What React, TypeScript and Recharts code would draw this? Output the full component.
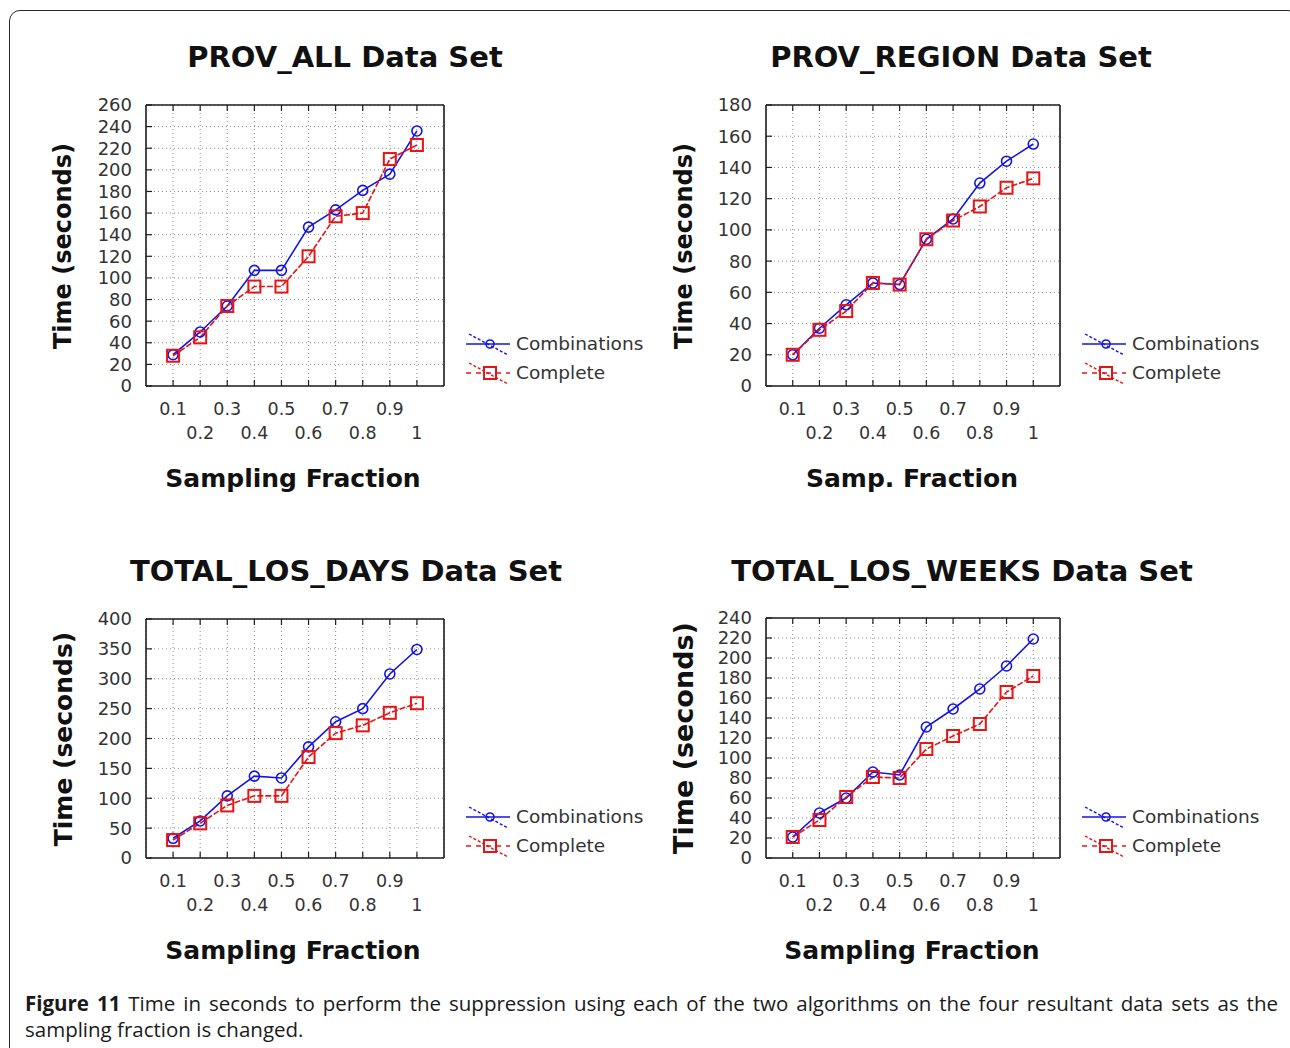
import React from 'react';
import { LineChart, Line, XAxis, YAxis, CartesianGrid } from 'recharts';

// ---------- data ----------
const fractions = [0.1, 0.2, 0.3, 0.4, 0.5, 0.6, 0.7, 0.8, 0.9, 1.0];

const provAllCombinations = [29, 50, 74, 107, 107, 147, 163, 181, 196, 236];
const provAllComplete = [28, 45, 74, 92, 92, 120, 157, 160, 210, 223];

const provRegionCombinations = [20, 37, 52, 66, 65, 94, 107, 130, 144, 155];
const provRegionComplete = [20, 36, 48, 66, 65, 94, 106, 115, 127, 133];

const losDaysCombinations = [33, 62, 104, 137, 134, 186, 228, 250, 308, 349];
const losDaysComplete = [30, 58, 88, 104, 104, 169, 209, 222, 243, 259];

const losWeeksCombinations = [21, 45, 60, 86, 83, 131, 149, 169, 192, 219];
const losWeeksComplete = [21, 38, 61, 81, 80, 109, 122, 134, 166, 182];

const ticks0to260 = [0, 20, 40, 60, 80, 100, 120, 140, 160, 180, 200, 220, 240, 260];
const ticks0to180 = [0, 20, 40, 60, 80, 100, 120, 140, 160, 180];
const ticks0to400 = [0, 50, 100, 150, 200, 250, 300, 350, 400];
const ticks0to240 = [0, 20, 40, 60, 80, 100, 120, 140, 160, 180, 200, 220, 240];

const seriesNames = ['Combinations', 'Complete'];

const FONT = "'DejaVu Sans', 'Liberation Sans', sans-serif";
const BLUE = '#1414e6';
const RED = '#e61414';
const AXIS = '#1e1e1e';

const buildRows = (comb: number[], comp: number[]) =>
  fractions.map((f, i) => ({ f, comb: comb[i], comp: comp[i] }));

const XTick = (props: any) => {
  const { x, y, payload } = props;
  const v = payload.value as number;
  const tenth = Math.round(v * 10);
  const second = tenth % 2 === 0;
  const label = tenth === 10 ? '1' : v.toFixed(1);
  return (
    <text x={x} y={y + (second ? 53 : 29)} textAnchor="middle" fontSize={17.5} fontFamily={FONT} fill="#333">
      {label}
    </text>
  );
};

const EmptyTick = () => <g />;

const CircleDot = (props: any) => {
  const { cx, cy, index } = props;
  return <circle key={`c${index}`} cx={cx} cy={cy} r={5} fill="none" stroke={BLUE} strokeWidth={1.6} />;
};
const SquareDot = (props: any) => {
  const { cx, cy, index } = props;
  return <rect key={`s${index}`} x={cx - 6} y={cy - 6} width={12} height={12} fill="none" stroke={RED} strokeWidth={2} />;
};

type PanelProps = {
  x1: number; x2: number; y1: number; y2: number;
  title: string; titleX: number; titleY: number;
  xLabel: string; xLabelX: number; xLabelY: number;
  yLabelX: number; yLabelSize: number;
  legendX: number; legendY: number;
  comb: number[]; comp: number[];
  yTicks: number[];
};

const padL = 120, padT = 80, padR = 20, padB = 110;

const LegendGlyph = ({ kind }: { kind: 'c' | 's' }) => (
  <svg width={46} height={26} style={{ display: 'block' }}>
    {kind === 'c' ? (
      <>
        <line x1={0} y1={13} x2={44} y2={13} stroke={BLUE} strokeWidth={1.6} />
        <line x1={3} y1={3} x2={42} y2={24} stroke={BLUE} strokeWidth={1.4} strokeDasharray="3 2" />
        <circle cx={24} cy={13} r={4} fill="none" stroke={BLUE} strokeWidth={1.6} />
      </>
    ) : (
      <>
        <line x1={0} y1={13} x2={44} y2={13} stroke={RED} strokeWidth={1.6} strokeDasharray="5 5" />
        <line x1={3} y1={3} x2={42} y2={24} stroke={RED} strokeWidth={1.4} strokeDasharray="3 2" />
        <rect x={18} y={7} width={12} height={12} fill="none" stroke={RED} strokeWidth={2} />
      </>
    )}
  </svg>
);

const Panel = (p: PanelProps) => {
  const data = buildRows(p.comb, p.comp);
  const yMax = p.yTicks[p.yTicks.length - 1];
  const width = p.x2 - p.x1 + padL + padR;
  const height = p.y2 - p.y1 + padT + padB;
  return (
    <>
      <div
        style={{
          position: 'absolute', left: p.titleX - 300, top: p.titleY - 18, width: 600, lineHeight: '36px',
          textAlign: 'center', fontFamily: FONT, fontWeight: 'bold', fontSize: 29, color: '#111', whiteSpace: 'nowrap',
        }}
      >
        {p.title}
      </div>
      <div
        style={{
          position: 'absolute', left: p.yLabelX, top: (p.y1 + p.y2) / 2, transform: 'translate(-50%, -50%) rotate(-90deg)',
          fontFamily: FONT, fontWeight: 'bold', fontSize: p.yLabelSize, color: '#111', whiteSpace: 'nowrap',
        }}
      >
        Time (seconds)
      </div>
      <div
        style={{
          position: 'absolute', left: p.xLabelX, top: p.xLabelY, transform: 'translate(-50%, -50%)',
          fontFamily: FONT, fontWeight: 'bold', fontSize: 25, color: '#111', whiteSpace: 'nowrap',
        }}
      >
        {p.xLabel}
      </div>
      <div style={{ position: 'absolute', left: p.legendX, top: p.legendY - 13 }}>
        {seriesNames.map((name, i) => (
          <div key={name} style={{ display: 'flex', alignItems: 'center', height: 29 }}>
            <LegendGlyph kind={i === 0 ? 'c' : 's'} />
            <span style={{ marginLeft: 4, fontFamily: FONT, fontSize: 18.5, color: '#333' }}>{name}</span>
          </div>
        ))}
      </div>
      <div style={{ position: 'absolute', left: p.x1 - padL, top: p.y1 - padT }}>
        <LineChart
          width={width}
          height={height}
          data={data}
          margin={{ left: padL - 50, top: padT - 1, right: padR - 1, bottom: padB - 100 }}
          style={{ fontFamily: FONT }}
        >
          <CartesianGrid xAxisId="b" yAxisId="l" stroke="#8a8a8a" strokeDasharray="1 3" />
          <XAxis
            xAxisId="b" dataKey="f" type="number" domain={[0, 1.1]} ticks={fractions} interval={0}
            height={100} tickSize={-6} tickMargin={6} tick={<XTick />}
            axisLine={{ stroke: AXIS, strokeWidth: 1.6 }} tickLine={{ stroke: AXIS, strokeWidth: 1.2 }}
          />
          <XAxis
            xAxisId="t" orientation="top" dataKey="f" type="number" domain={[0, 1.1]} ticks={fractions} interval={0}
            height={1} tickSize={-6} tick={<EmptyTick />}
            axisLine={{ stroke: AXIS, strokeWidth: 1.6 }} tickLine={{ stroke: AXIS, strokeWidth: 1.2 }}
          />
          <YAxis
            yAxisId="l" type="number" domain={[0, yMax]} ticks={p.yTicks} interval={0} width={50}
            tickSize={-6} tickMargin={20}
            tick={{ fontSize: 18, fill: '#333', fontFamily: FONT }}
            axisLine={{ stroke: AXIS, strokeWidth: 1.6 }} tickLine={{ stroke: AXIS, strokeWidth: 1.2 }}
          />
          <YAxis
            yAxisId="r" orientation="right" type="number" domain={[0, yMax]} ticks={p.yTicks} interval={0} width={1}
            tickSize={-6} tick={<EmptyTick />}
            axisLine={{ stroke: AXIS, strokeWidth: 1.6 }} tickLine={{ stroke: AXIS, strokeWidth: 1.2 }}
          />
          <Line
            xAxisId="b" yAxisId="l" dataKey="comb" name={seriesNames[0]} stroke={BLUE} strokeWidth={1.6}
            dot={CircleDot} activeDot={false} isAnimationActive={false}
          />
          <Line
            xAxisId="b" yAxisId="l" dataKey="comp" name={seriesNames[1]} stroke={RED} strokeWidth={1.6}
            strokeDasharray="6 2" dot={SquareDot} activeDot={false} isAnimationActive={false}
          />
        </LineChart>
      </div>
    </>
  );
};

export default function App() {
  return (
    <div style={{ position: 'absolute', left: 0, top: 0, width: 1290, height: 1048, overflow: 'hidden', background: '#fff' }}>
      <div
        style={{
          position: 'absolute', left: 9, top: 10, width: 1290, height: 1050, border: '1.5px solid #2a2a2a',
          borderRadius: 11, boxSizing: 'border-box',
        }}
      />
      <Panel
        x1={146} x2={444} y1={105} y2={386}
        title="PROV_ALL Data Set" titleX={345} titleY={57}
        xLabel="Sampling Fraction" xLabelX={293} xLabelY={478}
        yLabelX={63} yLabelSize={24}
        legendX={466} legendY={342}
        comb={provAllCombinations} comp={provAllComplete} yTicks={ticks0to260}
      />
      <Panel
        x1={766} x2={1060} y1={105} y2={386}
        title="PROV_REGION Data Set" titleX={961} titleY={57}
        xLabel="Samp. Fraction" xLabelX={912} xLabelY={478}
        yLabelX={684} yLabelSize={24}
        legendX={1082} legendY={342}
        comb={provRegionCombinations} comp={provRegionComplete} yTicks={ticks0to180}
      />
      <Panel
        x1={146} x2={444} y1={619} y2={858}
        title="TOTAL_LOS_DAYS Data Set" titleX={346} titleY={571}
        xLabel="Sampling Fraction" xLabelX={293} xLabelY={950}
        yLabelX={63} yLabelSize={25}
        legendX={466} legendY={815}
        comb={losDaysCombinations} comp={losDaysComplete} yTicks={ticks0to400}
      />
      <Panel
        x1={766} x2={1060} y1={618} y2={858}
        title="TOTAL_LOS_WEEKS Data Set" titleX={962} titleY={571}
        xLabel="Sampling Fraction" xLabelX={912} xLabelY={950}
        yLabelX={683} yLabelSize={27}
        legendX={1082} legendY={815}
        comb={losWeeksCombinations} comp={losWeeksComplete} yTicks={ticks0to240}
      />
      <div
        style={{
          position: 'absolute', left: 25, top: 990, width: 1253, fontFamily: "'Open Sans', 'Noto Sans', sans-serif",
          fontSize: 20.5, lineHeight: '26px', color: '#1a1a1a',
        }}
      >
        <div style={{ textAlign: 'justify', textAlignLast: 'justify', whiteSpace: 'nowrap', overflow: 'hidden' }}>
          <b>Figure 11</b> Time in seconds to perform the suppression using each of the two algorithms on the four resultant data sets as the
        </div>
        <div>sampling fraction is changed.</div>
      </div>
    </div>
  );
}
